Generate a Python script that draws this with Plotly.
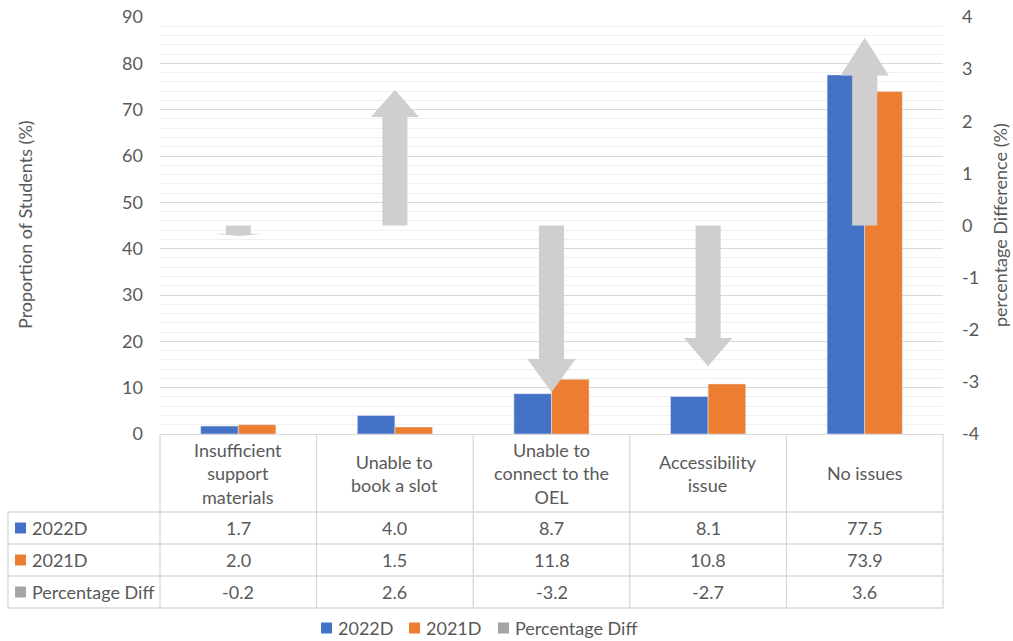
import plotly.graph_objects as go

categories = ["Insufficient<br>support<br>materials", "Unable to<br>book a slot",
              "Unable to<br>connect to the<br>OEL", "Accessibility<br>issue", "No issues"]
series_names = ["2022D", "2021D", "Percentage Diff"]
v2022 = [1.7, 4.0, 8.7, 8.1, 77.5]
v2021 = [2.0, 1.5, 11.8, 10.8, 73.9]
pdiff = [-0.2, 2.6, -3.2, -2.7, 3.6]
right_ticks = [-4, -3, -2, -1, 0, 1, 2, 3, 4]
right_tick_labels = ["-4", "-3", "-2", "-1", "0", "1", "2", "3", "4"]

BLUE = "#4472C4"
ORANGE = "#ED7D31"
GRAY = "#A5A5A5"
ARROW = "#D0CECE"
TXT = "#595959"
LINE = "#D9D9D9"
FONT = "Lato"
FS = 18

W, H = 1013, 641
L, R, T, B = 160, 943, 17, 434  # plot area in px


def px(xp):
    return (xp - L) / (R - L)


def py(yp):
    return (B - yp) / (B - T)


def label(text, x, y, xanchor="center", angle=0):
    return dict(text=text, x=px(x), y=py(y), xref="paper", yref="paper",
                xanchor=xanchor, yanchor="middle", showarrow=False, textangle=angle,
                align="center", font=dict(family=FONT, size=FS, color=TXT))


xs = list(range(len(categories)))
fig = go.Figure()
fig.add_trace(go.Bar(x=xs, y=v2022, name=series_names[0], marker_color=BLUE, yaxis="y"))
fig.add_trace(go.Bar(x=xs, y=v2021, name=series_names[1], marker_color=ORANGE, yaxis="y"))
fig.add_trace(go.Bar(x=xs, y=[None] * len(xs), name=series_names[2], marker_color=GRAY,
                     yaxis="y2"))

shapes = []
annotations = []
# arrows on the secondary axis
hw, sw = 0.154, 0.08
for c, v in zip(xs, pdiff):
    b = 0.8 * v
    path = (f"M {c - sw},0 L {c - sw},{b} L {c - hw},{b} L {c},{v} "
            f"L {c + hw},{b} L {c + sw},{b} L {c + sw},0 Z")
    shapes.append(dict(type="path", path=path, xref="x", yref="y2",
                       fillcolor=ARROW, line=dict(width=0), layer="above"))

# data table
col_edges = [L + i * (R - L) / len(categories) for i in range(len(categories) + 1)]
row_edges = [434, 512, 544, 576, 608]
left_edge = 8
lw = 1.3
for xe in col_edges:
    shapes.append(dict(type="line", xref="paper", yref="paper", x0=px(xe), x1=px(xe),
                       y0=py(row_edges[0]), y1=py(row_edges[-1]), line=dict(color=LINE, width=lw)))
shapes.append(dict(type="line", xref="paper", yref="paper", x0=px(left_edge), x1=px(left_edge),
                   y0=py(row_edges[1]), y1=py(row_edges[-1]), line=dict(color=LINE, width=lw)))
for ye in row_edges[1:]:
    shapes.append(dict(type="line", xref="paper", yref="paper", x0=px(left_edge), x1=px(R),
                       y0=py(ye), y1=py(ye), line=dict(color=LINE, width=lw)))

for i, cat in enumerate(categories):
    cx = (col_edges[i] + col_edges[i + 1]) / 2
    annotations.append(label(cat, cx, (row_edges[0] + row_edges[1]) / 2))

colors = [BLUE, ORANGE, GRAY]
rows = [v2022, v2021, pdiff]
for r, (name, vals, col) in enumerate(zip(series_names, rows, colors)):
    ym = (row_edges[r + 1] + row_edges[r + 2]) / 2
    shapes.append(dict(type="rect", xref="paper", yref="paper", x0=px(15), x1=px(26),
                       y0=py(ym + 5.5), y1=py(ym - 5.5), fillcolor=col, line=dict(width=0)))
    annotations.append(label(name, 30, ym, xanchor="left"))
    for i, v in enumerate(vals):
        cx = (col_edges[i] + col_edges[i + 1]) / 2
        annotations.append(label(f"{v:.1f}", cx, ym))

# manual legend
leg_y = 628
leg_x = [321, 409, 498]
for name, col, lx in zip(series_names, colors, leg_x):
    shapes.append(dict(type="rect", xref="paper", yref="paper", x0=px(lx), x1=px(lx + 11),
                       y0=py(leg_y + 5.5), y1=py(leg_y - 5.5), fillcolor=col, line=dict(width=0)))
    annotations.append(label(name, lx + 15, leg_y, xanchor="left"))

# axis titles
annotations.append(label("Proportion of Students (%)", 25, 225, angle=-90))
annotations.append(label("percentage Difference (%)", 1000, 225, angle=-90))

fig.update_layout(
    width=W, height=H,
    margin=dict(l=L, r=W - R, t=T, b=H - B),
    paper_bgcolor="white", plot_bgcolor="white",
    barmode="group", bargap=0.52, bargroupgap=0,
    showlegend=False,
    font=dict(family=FONT, size=FS, color=TXT),
    xaxis=dict(range=[-0.5, len(categories) - 0.5], showticklabels=False, showgrid=False,
               zeroline=False, showline=True, linecolor=LINE, linewidth=lw, ticks="",
               automargin=False),
    yaxis=dict(range=[0, 90], dtick=10, showgrid=True, gridcolor=LINE, gridwidth=1,
               zeroline=False, ticks="", ticklabelstandoff=16, automargin=False,
               tickfont=dict(family=FONT, size=FS, color=TXT),
               minor=dict(dtick=2, showgrid=True, gridcolor="#F0F0F0", gridwidth=1)),
    yaxis2=dict(range=[-4, 4], tickvals=right_ticks, ticktext=right_tick_labels,
                overlaying="y", side="right", showgrid=False, automargin=False,
                zeroline=False, ticks="", ticklabelstandoff=18,
                tickfont=dict(family=FONT, size=FS, color=TXT)),
    shapes=shapes, annotations=annotations,
)

fig.write_html("out.html")
